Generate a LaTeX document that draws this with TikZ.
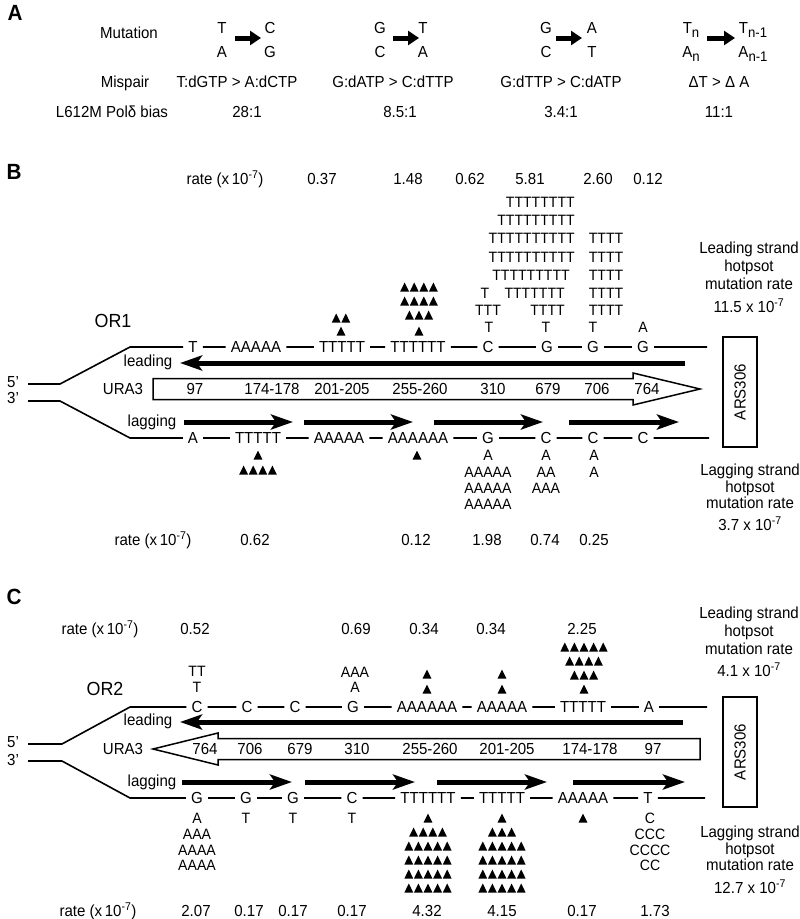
\documentclass[tikz,border=0pt]{standalone}
\usepackage{fontspec}
\setmainfont{Liberation Sans}[FakeStretch=0.94]
\usetikzlibrary{arrows.meta, positioning}

\newcommand{\trirow}[3]{%
    \foreach \k in {1,...,#3}
        \fill ({#1+(\k-(#3+1)/2)*9.6}, {#2+4.5}) -- ++(4.4,0) -- ++(-4.4,-9) -- ++(-4.4,9) -- cycle;
}
\newcommand{\lowsub}[1]{\raisebox{-4pt}{\fontsize{14}{16}\selectfont #1}}
\newcommand{\expo}{x\,10\textsuperscript{-7}}

\tikzset{
    txt/.style={font=\fontsize{16}{18}\selectfont, inner sep=0pt, anchor=base},
    stk/.style={font=\fontsize{15}{17}\selectfont, inner sep=0pt},
    nt/.style={font=\fontsize{16}{18}\selectfont, inner xsep=5pt, inner ysep=0pt},
    panel/.style={font=\fontsize{22}{24}\selectfont\bfseries, inner sep=0pt},
    orilbl/.style={font=\fontsize{19}{21}\selectfont, inner sep=0pt},
    side/.style={font=\fontsize{16}{18}\selectfont, inner sep=0pt, align=center, anchor=north},
    strand/.style={line width=1.6pt, line join=round},
    gene/.style={line width=1.5pt, line join=miter},
    fat/.style={line width=5pt, -{Stealth[length=22pt, width=15pt, inset=5pt]}},
    mut/.style={line width=5pt, -{Triangle[length=11pt, width=14pt]}},
    ars/.style={draw, line width=1.6pt, rotate=90, minimum width=110pt, minimum height=34pt,
        inner sep=0pt, font=\fontsize{16}{18}\selectfont}
}

\begin{document}
\begin{tikzpicture}[x=1pt, y=-1pt]
\useasboundingbox (0,0) rectangle (800,919);

% A
\node[panel] (labA) at (15,13) {A};
\node[txt] (mutn) at (129,38.5) {Mutation};
\node[txt] (m1a) at (222,33.5) {T};
\node[txt] (m1b) at (222,57.5) {A};
\node[txt] (m1c) at (270,33.5) {C};
\node[txt] (m1d) at (270,57.5) {G};
\node[txt] (m2a) at (380,33.5) {G};
\node[txt] (m2b) at (380,57.5) {C};
\node[txt] (m2c) at (423,33.5) {T};
\node[txt] (m2d) at (423,57.5) {A};
\node[txt] (m3a) at (546,33.5) {G};
\node[txt] (m3b) at (546,57.5) {C};
\node[txt] (m3c) at (592,33.5) {A};
\node[txt] (m3d) at (592,57.5) {T};
\node[txt] (m4a) at (691,33.5) {T\lowsub{n}};
\node[txt] (m4b) at (691,57.5) {A\lowsub{n}};
\node[txt] (m4c) at (753,33.5) {T\lowsub{n-1}};
\node[txt] (m4d) at (753,57.5) {A\lowsub{n-1}};
\coordinate (m1s) at (235,38); \coordinate (m1e) at (261,38);
\coordinate (m2s) at (393,38); \coordinate (m2e) at (419,38);
\coordinate (m3s) at (556,38); \coordinate (m3e) at (582,38);
\coordinate (m4s) at (707,38); \coordinate (m4e) at (735,38);
\draw[mut] (m1s) -- (m1e);
\draw[mut] (m2s) -- (m2e);
\draw[mut] (m3s) -- (m3e);
\draw[mut] (m4s) -- (m4e);

\node[txt] (misp) at (125,87.5) {Mispair};
\node[txt] (mp1) at (237,87.5) {T:dGTP > A:dCTP};
\node[txt] (mp2) at (393,87.5) {G:dATP > C:dTTP};
\node[txt] (mp3) at (561,87.5) {G:dTTP > C:dATP};
\node[txt] (mp4) at (719,87.5) {ΔT > Δ A};
\node[txt] (bias) at (112,117.5) {L612M Polδ bias};
\node[txt] (bs1) at (247,117.5) {28:1};
\node[txt] (bs2) at (400,117.5) {8.5:1};
\node[txt] (bs3) at (561,117.5) {3.4:1};
\node[txt] (bs4) at (719,117.5) {11:1};

% B
\node[panel] (labB) at (14,172) {B};
\node[txt] (bRate) at (225,184.5) {rate (\expo)};
\foreach \x/\v [count=\i] in {322/0.37, 408/1.48, 470/0.62, 530/5.81, 598/2.60, 648/0.12}
    \node[txt] (bru\i) at (\x,184.5) {\v};

\node[stk] (bc1) at (489,327) {T};
\node[stk] (bc2) at (488,310) {TTT};
\node[stk] (bc3) at (485,293) {T};
\node[stk] (bd1) at (546,327) {T};
\node[stk, anchor=east] (bd2) at (565,310) {TTTT};
\node[stk, anchor=east] (bd3) at (565,293) {TTTTTTT};
\node[stk, anchor=east] (bd4) at (570,275) {TTTTTTTTT};
\node[stk, anchor=east] (bd5) at (575,257) {TTTTTTTTTT};
\node[stk, anchor=east] (bd6) at (575,238) {TTTTTTTTTT};
\node[stk, anchor=east] (bd7) at (575,220) {TTTTTTTTT};
\node[stk, anchor=east] (bd8) at (575,202) {TTTTTTTT};
\node[stk] (be0) at (593,327) {T};
\foreach \y [count=\i] in {310,293,275,257,238}
    \node[stk] (be\i) at (606,\y) {TTTT};
\node[stk] (bf1) at (643,327) {A};

\trirow{341}{318}{2}
\trirow{341}{331}{1}
\trirow{419}{287}{4}
\trirow{419}{301}{4}
\trirow{419}{315}{3}
\trirow{419}{331}{1}

\node[orilbl] (or1) at (113,321) {OR1};
\node[txt] (b5) at (13,387.5) {5’};
\node[txt] (b3) at (13,403.5) {3’};
\coordinate (b5a) at (28,384);
\coordinate (b5b) at (60,384);
\coordinate (b3a) at (28,401);
\coordinate (b3b) at (60,401);
\coordinate (bt0) at (130,347);
\coordinate (bt9) at (707,347);
\coordinate (bl0) at (130,438);
\coordinate (bl9) at (709,438);

\node[nt] (bt1) at (193,347) {T};
\node[nt] (bt2) at (256,347) {AAAAA};
\node[nt] (bt3) at (342,347) {TTTTT};
\node[nt] (bt4) at (418,347) {TTTTTT};
\node[nt] (bt5) at (488,347) {C};
\node[nt] (bt6) at (547,347) {G};
\node[nt] (bt7) at (593,347) {G};
\node[nt] (bt8) at (643,347) {G};
\draw[strand] (b5a) -- (b5b) -- (bt0) -- (bt1) -- (bt2) -- (bt3) -- (bt4) -- (bt5)
    -- (bt6) -- (bt7) -- (bt8) -- (bt9);

\node[txt] (bLead) at (148,366.5) {leading};
\coordinate (bLeadS) at (685,363);
\coordinate (bLeadE) at (180,363);
\draw[fat] (bLeadS) -- (bLeadE);

\node[txt] (bUra) at (123,394.5) {URA3};
\draw[gene] (153,378.5) -- (633,378.5) -- (633,373) -- (700,389) -- (633,405)
    -- (633,399.5) -- (153,399.5) -- cycle;
\foreach \x/\v [count=\i] in {195/97, 272/174-178, 342/201-205, 420/255-260, 493/310,
    548/679, 597/706, 647/764}
    \node[txt] (bu\i) at (\x,394.5) {\v};

\node[txt] (bLag) at (152,426.5) {lagging};
\foreach \s/\e [count=\i] in {184/293, 304/413, 434/543, 569/679} {
    \coordinate (bga\i) at (\s,422);
    \coordinate (bgb\i) at (\e,422);
    \draw[fat] (bga\i) -- (bgb\i);
}

\node[nt] (bl1) at (193,438) {A};
\node[nt] (bl2) at (258,438) {TTTTT};
\node[nt] (bl3) at (339,438) {AAAAA};
\node[nt] (bl4) at (418,438) {AAAAAA};
\node[nt] (bl5) at (488,438) {G};
\node[nt] (bl6) at (546,438) {C};
\node[nt] (bl7) at (593,438) {C};
\node[nt] (bl8) at (643,438) {C};
\draw[strand] (b3a) -- (b3b) -- (bl0) -- (bl1) -- (bl2) -- (bl3) -- (bl4) -- (bl5)
    -- (bl6) -- (bl7) -- (bl8) -- (bl9);

\trirow{258}{455}{1}
\trirow{258}{470}{4}
\trirow{417}{455}{1}
\node[stk] (bm1) at (488,455) {A};
\node[stk] (bm2) at (488,472) {AAAAA};
\node[stk] (bm3) at (488,488) {AAAAA};
\node[stk] (bm4) at (488,504) {AAAAA};
\node[stk] (bn1) at (546,455) {A};
\node[stk] (bn2) at (546,472) {AA};
\node[stk] (bn3) at (546,488) {AAA};
\node[stk] (bo1) at (594,455) {A};
\node[stk] (bo2) at (594,472) {A};

\node[ars] (bArs) at (740,392) {ARS306};
\node[side] (bLeadR) at (749,241.5) {Leading strand\\hotpsot\\mutation rate\\[5pt]11.5 x 10\textsuperscript{-7}};
\node[side, font=\fontsize{16}{16.5}\selectfont] (bLagR) at (750,464) {Lagging strand\\hotpsot\\mutation rate\\[5pt]3.7 x 10\textsuperscript{-7}};

\node[txt] (bRateL) at (153,545.5) {rate (\expo)};
\foreach \x/\v [count=\i] in {255/0.62, 416/0.12, 487/1.98, 545/0.74, 594/0.25}
    \node[txt] (brl\i) at (\x,545.5) {\v};

% C
\node[panel] (labC) at (14,597) {C};
\node[txt] (cRate) at (100,634.5) {rate (\expo)};
\foreach \x/\v [count=\i] in {195/0.52, 356/0.69, 424/0.34, 491/0.34, 582/2.25}
    \node[txt] (cru\i) at (\x,634.5) {\v};

\node[stk] (cc1) at (197,671) {TT};
\node[stk] (cc2) at (197,687) {T};
\node[stk] (cd1) at (355,672) {AAA};
\node[stk] (cd2) at (355,687) {A};
\trirow{427}{674}{1}
\trirow{427}{689}{1}
\trirow{502}{674}{1}
\trirow{502}{689}{1}
\trirow{584}{647}{5}
\trirow{584}{661}{4}
\trirow{584}{675}{3}
\trirow{584}{689}{1}

\node[orilbl] (or2) at (105,689) {OR2};
\node[txt] (c5) at (13,747.5) {5’};
\node[txt] (c3) at (13,765.5) {3’};
\coordinate (c5a) at (28,744);
\coordinate (c5b) at (62,744);
\coordinate (c3a) at (28,761);
\coordinate (c3b) at (62,761);
\coordinate (ct0) at (130,707);
\coordinate (ct9) at (707,707);
\coordinate (cl0) at (130,798);
\coordinate (cl9) at (705,798);

\node[nt] (ct1) at (197,707) {C};
\node[nt] (ct2) at (247,707) {C};
\node[nt] (ct3) at (295,707) {C};
\node[nt] (ct4) at (353,707) {G};
\node[nt] (ct5) at (427,707) {AAAAAA};
\node[nt] (ct6) at (502,707) {AAAAA};
\node[nt] (ct7) at (583,707) {TTTTT};
\node[nt] (ct8) at (649,707) {A};
\draw[strand] (c5a) -- (c5b) -- (ct0) -- (ct1) -- (ct2) -- (ct3) -- (ct4) -- (ct5)
    -- (ct6) -- (ct7) -- (ct8) -- (ct9);

\node[txt] (cLead) at (148,725.5) {leading};
\coordinate (cLeadS) at (683,722);
\coordinate (cLeadE) at (180,722);
\draw[fat] (cLeadS) -- (cLeadE);

\node[txt] (cUra) at (123,754.5) {URA3};
\draw[gene] (153,749) -- (218,733) -- (218,738.5) -- (700,738.5) -- (700,759.5)
    -- (218,759.5) -- (218,765) -- cycle;
\foreach \x/\v [count=\i] in {205/764, 250/706, 300/679, 357/310, 430/255-260,
    507/201-205, 590/174-178, 653/97}
    \node[txt] (cu\i) at (\x,754.5) {\v};

\node[txt] (cLag) at (152,786.5) {lagging};
\foreach \s/\e [count=\i] in {182/292, 305/415, 437/547, 573/685} {
    \coordinate (cga\i) at (\s,782);
    \coordinate (cgb\i) at (\e,782);
    \draw[fat] (cga\i) -- (cgb\i);
}

\node[nt] (cl1) at (197,798) {G};
\node[nt] (cl2) at (246,798) {G};
\node[nt] (cl3) at (293,798) {G};
\node[nt] (cl4) at (352,798) {C};
\node[nt] (cl5) at (428,798) {TTTTTT};
\node[nt] (cl6) at (502,798) {TTTTT};
\node[nt] (cl7) at (583,798) {AAAAA};
\node[nt] (cl8) at (648,798) {T};
\draw[strand] (c3a) -- (c3b) -- (cl0) -- (cl1) -- (cl2) -- (cl3) -- (cl4) -- (cl5)
    -- (cl6) -- (cl7) -- (cl8) -- (cl9);

\node[stk] (cm1) at (197,818) {A};
\node[stk] (cm2) at (197,834) {AAA};
\node[stk] (cm3) at (197,850) {AAAA};
\node[stk] (cm4) at (197,865) {AAAA};
\node[stk] (cn1) at (246,818) {T};
\node[stk] (cn2) at (293,818) {T};
\node[stk] (cn3) at (352,818) {T};
\trirow{428}{818}{1}
\trirow{428}{832}{4}
\trirow{502}{818}{1}
\trirow{502}{832}{3}
\foreach \y in {846,860,874,888} {
    \trirow{428}{\y}{5}
    \trirow{502}{\y}{5}
}
\trirow{583}{818}{1}
\node[stk] (co1) at (650,818) {C};
\node[stk] (co2) at (650,834) {CCC};
\node[stk] (co3) at (650,850) {CCCC};
\node[stk] (co4) at (650,865) {CC};

\node[ars] (cArs) at (740,752) {ARS306};
\node[side] (cLeadR) at (749,607) {Leading strand\\hotpsot\\mutation rate\\[4pt]4.1 x 10\textsuperscript{-7}};
\node[side, font=\fontsize{16}{16.5}\selectfont] (cLagR) at (750,826) {Lagging strand\\hotpsot\\mutation rate\\[6pt]12.7 x 10\textsuperscript{-7}};

\node[txt] (cRateL) at (98,916.5) {rate (\expo)};
\foreach \x/\v [count=\i] in {196/2.07, 249/0.17, 293/0.17, 352/0.17, 427/4.32,
    502/4.15, 582/0.17, 655/1.73}
    \node[txt] (crl\i) at (\x,916.5) {\v};
\end{tikzpicture}
\end{document}
